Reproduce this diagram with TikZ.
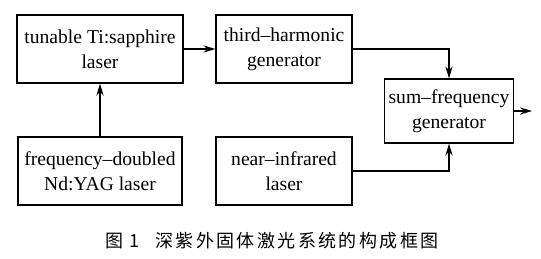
\documentclass[tikz,border=0pt]{standalone}
\usepackage{fontspec}
\setmainfont{Liberation Serif}
\newfontfamily\cjk{Noto Sans CJK SC}
\usetikzlibrary{arrows.meta}
\usetikzlibrary{positioning}

\newcommand{\capsp}{\hspace{1.2pt}}

\begin{document}
\begin{tikzpicture}[
        x=0.5pt, y=-0.5pt,
        block/.style={rectangle, draw, align=center, minimum height=34pt, line width=0.6pt, font=\fontsize{9.8}{12.6}\selectfont, inner sep=2pt},
        arrow/.style={-{Stealth[length=6pt, width=3.6pt]}, line width=0.6pt}
    ]
    \useasboundingbox (0,0) rectangle (541,258);

    % Lasers and converters
    \node[block, minimum width=83pt] (tisa) at (100,49) {tunable Ti:sapphire\\laser};
    \node[block, minimum width=68pt] (thg) at (284,49) {third--harmonic\\generator};
    \node[block, minimum width=64pt, minimum height=32pt] (sfg) at (449,111) {sum--frequency\\generator};
    \node[block, minimum width=82pt] (yag) at (100,171) {frequency--doubled\\Nd:YAG laser};
    \node[block, minimum width=68pt] (nir) at (284,171) {near--infrared\\laser};
    \coordinate (out) at (532,111);

    % Arrows
    \draw[arrow] (yag.north) -- (tisa.south);
    \draw[arrow] (tisa.east) -- (thg.west);
    \draw[arrow] (thg.east) -| (sfg.north);
    \draw[arrow] (nir.east) -| (sfg.south);
    \draw[arrow] (sfg.east) -- (out);

    % Caption
    \node[font=\cjk\fontsize{9}{10}\selectfont] (cap) at (272,241) {图\hspace{3pt}1\hspace{8pt}深\capsp 紫\capsp 外\capsp 固\capsp 体\capsp 激\capsp 光\capsp 系\capsp 统\capsp 的\capsp 构\capsp 成\capsp 框\capsp 图};
\end{tikzpicture}
\end{document}
